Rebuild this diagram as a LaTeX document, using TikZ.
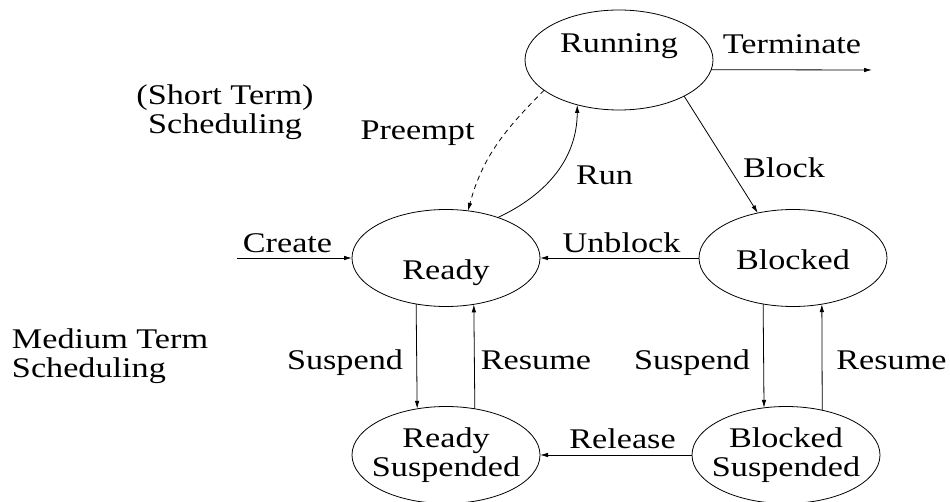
\documentclass[tikz,border=0pt]{standalone}
\usepackage{fontspec}
\setmainfont{Liberation Serif}[FakeStretch=1.2]
\usetikzlibrary{arrows.meta,shapes.geometric}
\begin{document}
\begin{tikzpicture}[x=1pt,y=1pt,
  every node/.style={font=\fontsize{28.5}{29}\selectfont, inner sep=0pt, outer sep=0pt},
  state/.style={draw, ellipse, minimum width=188pt, minimum height=97pt, line width=0.8pt},
  arr/.style={line width=0.8pt, -{Latex[length=8pt,width=4.5pt]}},
  dashedarr/.style={arr, dash pattern=on 5pt off 4pt},
  lbl/.style={anchor=base}]
\useasboundingbox (0,0) rectangle (950,-502);

% states
\node[state, minimum height=100pt, text height=10pt, text depth=24pt] (running) at (619,-60) {Running};
\node[state, text height=48pt, text depth=5.6pt] (ready) at (446,-258) {Ready};
\node[state, text height=23pt, text depth=0pt] (blocked) at (793,-258) {Blocked};
\node[state, align=center, inner xsep=-20pt] (readysusp) at (446,-455) {Ready\\Suspended};
\node[state, align=center, inner xsep=-20pt] (blockedsusp) at (786,-455) {Blocked\\Suspended};

% side texts
\node[align=center] (shortterm) at (225,-112.5) {(Short Term)\\Scheduling};
\node[align=left, anchor=west] (mediumterm) at (12,-356) {Medium Term\\Scheduling};

% transition labels
\node[lbl] (terminate) at (792,-54) {Terminate};
\node[lbl] (preempt) at (417.5,-139.5) {Preempt};
\node[lbl] (run) at (604.5,-185) {Run};
\node[lbl] (block) at (784,-178) {Block};
\node[lbl] (create) at (287.5,-253) {Create};
\node[lbl] (unblock) at (621.5,-253) {Unblock};
\node[lbl] (suspendl) at (345,-370) {Suspend};
\node[lbl] (resumel) at (536,-370) {Resume};
\node[lbl] (suspendr) at (692,-370) {Suspend};
\node[lbl] (resumer) at (891.5,-370) {Resume};
\node[lbl] (release) at (622.5,-448) {Release};

% free ends
\coordinate (createstart) at (237,-258);
\coordinate (termend) at (872,-70);

% connectors
\draw[arr] (createstart) -- (ready.west);
\draw[arr] (running.354) -- (termend);
\draw[dashedarr] (running.202) to[out=225,in=75] (ready.65);
\draw[arr] (ready.38.6) to[out=25,in=-90] (running.227.7);
\draw[arr] (running.331.7) -- (blocked.128.8);
\draw[arr] (blocked.west) -- (ready.east);
\draw[arr] (ready.237.8) -- (readysusp.122.2);
\draw[arr] (readysusp.58.8) -- (ready.301.2);
\draw[arr] (blocked.237.8) -- (blockedsusp.115);
\draw[arr] (blockedsusp.51.2) -- (blocked.302.2);
\draw[arr] (blockedsusp.west) -- (readysusp.east);
\end{tikzpicture}
\end{document}
